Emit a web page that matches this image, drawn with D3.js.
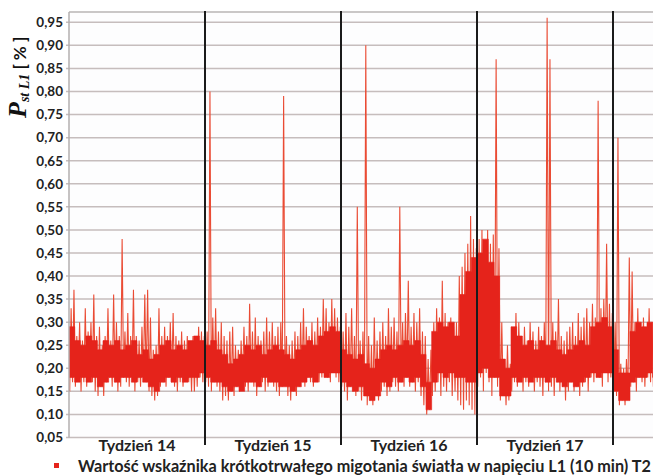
<!DOCTYPE html>
<html>
<head>
<meta charset="utf-8">
<script src="https://cdn.jsdelivr.net/npm/d3@7"></script>
<style>
  html, body { margin: 0; padding: 0; background: #ffffff; }
  svg { display: block; }
</style>
</head>
<body>
<svg id="chart" width="653" height="476"></svg>
<script>
// Flicker severity index Pst for phase L1, 10-minute values, weeks 14-18.
// Each week is split into 48 bins holding the lowest and highest reading of the bin,
// and into 24 coarser bins holding the dense band where most readings fall.
const yTicks = [0.05, 0.10, 0.15, 0.20, 0.25, 0.30, 0.35, 0.40, 0.45, 0.50,
                0.55, 0.60, 0.65, 0.70, 0.75, 0.80, 0.85, 0.90, 0.95];
const weekLabels = ["Tydzień 14", "Tydzień 15", "Tydzień 16", "Tydzień 17"];
const weekNumbers = [14, 15, 16, 17, 18];
const legendLabel = "Wartość wskaźnika krótkotrwałego migotania światła w napięciu L1 (10 min) T2";

// extremes per bin (48 per week)
const hi14 = [0.33,0.37,0.27,0.30,0.26,0.33,0.28,0.30,0.36,0.27,0.29,0.25,0.27,0.33,0.26,0.36,
              0.30,0.27,0.48,0.28,0.32,0.27,0.37,0.27,0.26,0.29,0.36,0.37,0.31,0.24,0.25,0.33,
              0.27,0.29,0.27,0.30,0.32,0.27,0.26,0.28,0.26,0.27,0.25,0.27,0.26,0.29,0.28,0.27];
const lo14 = [0.15,0.17,0.16,0.18,0.15,0.17,0.16,0.18,0.17,0.15,0.14,0.16,0.14,0.17,0.18,0.16,
              0.17,0.15,0.16,0.18,0.17,0.16,0.18,0.15,0.17,0.16,0.18,0.17,0.15,0.14,0.13,0.14,
              0.16,0.17,0.16,0.18,0.17,0.16,0.15,0.17,0.16,0.18,0.17,0.15,0.15,0.16,0.18,0.17];

const hi15 = [0.28,0.80,0.31,0.33,0.28,0.30,0.27,0.26,0.28,0.29,0.25,0.24,0.26,0.29,0.27,0.34,
              0.28,0.31,0.27,0.26,0.28,0.31,0.28,0.30,0.27,0.29,0.30,0.79,0.27,0.25,0.26,0.28,
              0.27,0.30,0.33,0.29,0.27,0.30,0.28,0.31,0.29,0.35,0.33,0.30,0.35,0.33,0.31,0.29];
const lo15 = [0.17,0.16,0.15,0.17,0.16,0.15,0.13,0.14,0.13,0.15,0.14,0.16,0.15,0.17,0.16,0.15,
              0.17,0.16,0.14,0.16,0.17,0.15,0.16,0.17,0.16,0.15,0.14,0.16,0.17,0.14,0.13,0.15,
              0.14,0.16,0.17,0.16,0.18,0.17,0.16,0.18,0.17,0.18,0.19,0.18,0.17,0.19,0.18,0.17];

const hi16 = [0.28,0.32,0.29,0.33,0.27,0.55,0.26,0.28,0.90,0.27,0.25,0.31,0.26,0.28,0.30,0.27,
              0.33,0.29,0.31,0.28,0.55,0.30,0.32,0.39,0.29,0.32,0.30,0.33,0.28,0.27,0.22,0.24,
              0.30,0.33,0.31,0.39,0.32,0.30,0.31,0.29,0.30,0.40,0.42,0.45,0.47,0.53,0.48,0.46];
const lo16 = [0.16,0.15,0.13,0.16,0.15,0.14,0.15,0.13,0.14,0.12,0.13,0.12,0.14,0.13,0.15,0.16,
              0.14,0.15,0.17,0.16,0.15,0.17,0.16,0.18,0.16,0.17,0.15,0.17,0.14,0.12,0.10,0.11,
              0.14,0.15,0.17,0.14,0.16,0.15,0.17,0.14,0.15,0.13,0.12,0.11,0.13,0.12,0.11,0.10];

const hi17 = [0.48,0.50,0.44,0.50,0.47,0.49,0.87,0.46,0.30,0.22,0.25,0.21,0.28,0.32,0.30,0.27,
              0.29,0.26,0.30,0.28,0.26,0.29,0.27,0.30,0.96,0.87,0.30,0.28,0.35,0.27,0.26,0.28,
              0.29,0.30,0.27,0.32,0.29,0.31,0.33,0.30,0.34,0.31,0.78,0.33,0.35,0.47,0.34,0.32];
const lo17 = [0.16,0.18,0.15,0.19,0.17,0.14,0.18,0.16,0.13,0.14,0.12,0.13,0.15,0.17,0.16,0.18,
              0.15,0.17,0.16,0.18,0.15,0.17,0.16,0.14,0.17,0.15,0.16,0.14,0.17,0.15,0.16,0.13,
              0.15,0.17,0.15,0.16,0.14,0.16,0.17,0.15,0.18,0.17,0.19,0.18,0.16,0.19,0.17,0.18];

const hi18 = [0.30,0.70,0.21,0.20,0.22,0.44,0.41,0.30,0.33,0.29,0.31,0.28,0.33,0.30,0.29];
const lo18 = [0.15,0.14,0.12,0.13,0.12,0.14,0.16,0.17,0.15,0.18,0.17,0.16,0.18,0.17,0.16];

// dense band per coarse bin (24 per week)
const coreHi14 = [0.29,0.26,0.25,0.27,0.26,0.24,0.26,0.25,0.26,0.24,0.25,0.26,
                  0.23,0.24,0.22,0.23,0.25,0.26,0.24,0.25,0.24,0.26,0.27,0.26];
const coreLo14 = [0.18,0.17,0.18,0.17,0.18,0.16,0.17,0.18,0.17,0.18,0.18,0.17,
                  0.18,0.17,0.16,0.15,0.17,0.18,0.17,0.18,0.17,0.18,0.18,0.19];
const coreHi15 = [0.25,0.26,0.24,0.23,0.21,0.22,0.23,0.25,0.24,0.25,0.23,0.24,
                  0.25,0.24,0.23,0.22,0.24,0.25,0.26,0.25,0.27,0.28,0.29,0.28];
const coreLo15 = [0.18,0.17,0.17,0.16,0.15,0.16,0.15,0.17,0.17,0.16,0.18,0.17,
                  0.17,0.16,0.16,0.15,0.16,0.17,0.18,0.17,0.19,0.18,0.19,0.19];
const coreHi16 = [0.24,0.23,0.22,0.23,0.21,0.20,0.22,0.24,0.25,0.24,0.25,0.26,
                  0.25,0.26,0.23,0.17,0.28,0.30,0.29,0.30,0.27,0.36,0.41,0.44];
const coreLo16 = [0.17,0.16,0.15,0.16,0.14,0.13,0.14,0.17,0.16,0.18,0.17,0.18,
                  0.17,0.18,0.16,0.11,0.17,0.19,0.18,0.19,0.18,0.18,0.17,0.17];
const coreHi17 = [0.45,0.48,0.43,0.40,0.22,0.20,0.29,0.27,0.25,0.26,0.24,0.26,
                  0.25,0.26,0.24,0.23,0.24,0.25,0.26,0.25,0.29,0.30,0.31,0.29];
const coreLo17 = [0.19,0.20,0.18,0.18,0.14,0.14,0.18,0.17,0.18,0.17,0.18,0.18,
                  0.17,0.18,0.17,0.16,0.17,0.16,0.17,0.18,0.19,0.18,0.19,0.19];
const coreHi18 = [0.24,0.19,0.19,0.28,0.30,0.29,0.30,0.29];
const coreLo18 = [0.15,0.13,0.13,0.17,0.18,0.18,0.19,0.18];

const weeklyBins = [
  { week: 14, hi: hi14, lo: lo14, coreHi: coreHi14, coreLo: coreLo14 },
  { week: 15, hi: hi15, lo: lo15, coreHi: coreHi15, coreLo: coreLo15 },
  { week: 16, hi: hi16, lo: lo16, coreHi: coreHi16, coreLo: coreLo16 },
  { week: 17, hi: hi17, lo: lo17, coreHi: coreHi17, coreLo: coreLo17 },
  { week: 18, hi: hi18, lo: lo18, coreHi: coreHi18, coreLo: coreLo18 }
];
const binsPerWeek = 48;
const coreBinsPerWeek = 24;

// ---- layout ----
const W = 653;
const plot = { left: 69, top: 12, bottom: 437.5, right: 653 };
const svg = d3.select("#chart");

const x = d3.scaleLinear().domain([14, 19]).range([plot.left, plot.left + 5 * 136]);
const y = d3.scaleLinear().domain([0.05, 0.95]).range([plot.bottom, 22.3]);

const sans = "Lato, 'Open Sans', sans-serif";
const red = "#e5231b";

// plot background + top border
svg.append("rect")
  .attr("x", plot.left).attr("y", plot.top)
  .attr("width", plot.right - plot.left).attr("height", plot.bottom - plot.top)
  .attr("fill", "#fdfdfe");
svg.append("line")
  .attr("x1", plot.left).attr("x2", plot.right)
  .attr("y1", plot.top).attr("y2", plot.top)
  .attr("stroke", "#b9b4b4").attr("stroke-width", 1.5);

// horizontal gridlines
svg.append("g").selectAll("line").data(yTicks).join("line")
  .attr("x1", plot.left - 3).attr("x2", plot.right)
  .attr("y1", d => y(d)).attr("y2", d => y(d))
  .attr("stroke", "#c6bdbd").attr("stroke-width", 1.5);

// y axis tick labels
const yAxis = d3.axisLeft(y)
  .tickValues(yTicks)
  .tickSize(0)
  .tickPadding(6)
  .tickFormat(d => d3.format(".2f")(d).replace(".", ","));
const gy = svg.append("g").attr("transform", `translate(${plot.left},0)`).call(yAxis);
gy.select(".domain").remove();
gy.selectAll("text")
  .attr("font-family", sans).attr("font-weight", 700)
  .attr("font-size", 13.5).attr("fill", "#222");

// series points
const extremes = [];
const core = [];
weeklyBins.forEach(wk => {
  wk.hi.forEach((h, i) => {
    extremes.push({ t: wk.week + (i + 0.25) / binsPerWeek, v: wk.lo[i] });
    extremes.push({ t: wk.week + (i + 0.75) / binsPerWeek, v: h });
  });
  wk.coreHi.forEach((h, j) => {
    core.push({ t: wk.week + j / coreBinsPerWeek, hi: h, lo: wk.coreLo[j] });
  });
});

svg.append("clipPath").attr("id", "plotClip")
  .append("rect")
  .attr("x", plot.left).attr("y", plot.top)
  .attr("width", plot.right - plot.left).attr("height", plot.bottom - plot.top);

const series = svg.append("g").attr("clip-path", "url(#plotClip)");

// min/max excursions of the 10-minute readings
series.append("path")
  .datum(extremes)
  .attr("d", d3.line().x(d => x(d.t)).y(d => y(d.v)))
  .attr("fill", "none")
  .attr("stroke", "#ea4b34")
  .attr("stroke-width", 1.1)
  .attr("stroke-linejoin", "miter");

// dense band of readings, one step per coarse bin
series.append("path")
  .datum(core)
  .attr("d", d3.area().curve(d3.curveStepAfter)
    .x(d => x(d.t)).y0(d => y(d.lo)).y1(d => y(d.hi)))
  .attr("fill", red)
  .attr("stroke", red)
  .attr("stroke-width", 0.6);

// left axis line
svg.append("line")
  .attr("x1", plot.left).attr("x2", plot.left)
  .attr("y1", plot.top).attr("y2", plot.bottom)
  .attr("stroke", "#b3afaf").attr("stroke-width", 1.5);

// week separators
svg.append("g").selectAll("line").data(weekNumbers.slice(1)).join("line")
  .attr("x1", d => x(d)).attr("x2", d => x(d))
  .attr("y1", plot.top - 1).attr("y2", 445)
  .attr("stroke", "#1b1b1b").attr("stroke-width", 2);

// week labels
svg.append("g").selectAll("text").data(weekLabels).join("text")
  .attr("x", (d, i) => x(weekNumbers[i] + 0.5))
  .attr("y", 451)
  .attr("text-anchor", "middle")
  .attr("font-family", sans).attr("font-weight", 700)
  .attr("font-size", 16).attr("fill", "#222")
  .text(d => d);

// y axis title: P_st L1 [ % ]
const title = svg.append("text")
  .attr("transform", "translate(26,118) rotate(-90)")
  .attr("fill", "#111");
title.append("tspan")
  .attr("font-family", "'Liberation Serif', serif")
  .attr("font-style", "italic").attr("font-weight", 700)
  .attr("font-size", 26)
  .text("P");
title.append("tspan")
  .attr("font-family", "'Liberation Serif', serif")
  .attr("font-style", "italic").attr("font-weight", 700)
  .attr("font-size", 14).attr("dy", 3)
  .text("st L1");
title.append("tspan")
  .attr("font-family", sans).attr("font-weight", 700)
  .attr("font-size", 17).attr("dy", -3)
  .text(" [ % ]");

// legend
svg.append("rect")
  .attr("x", 54).attr("y", 463).attr("width", 5).attr("height", 5)
  .attr("fill", red);
const legendText = svg.append("text")
  .attr("x", 78).attr("y", 472)
  .attr("font-family", sans).attr("font-weight", 700)
  .attr("font-size", 16.5).attr("fill", "#222")
  .text(legendLabel);
// keep the legend inside the drawing
const room = W - 2 - 78;
const len = legendText.node().getComputedTextLength();
if (len > room) legendText.attr("font-size", 16.5 * room / len);
</script>
</body>
</html>
